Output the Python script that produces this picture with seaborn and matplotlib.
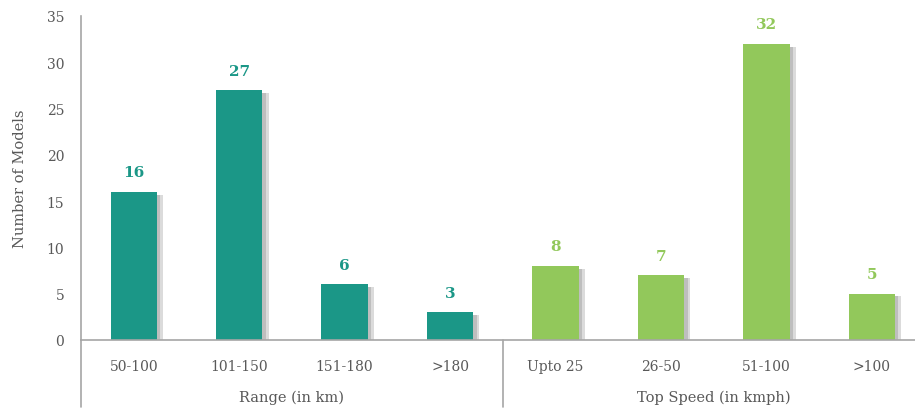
import matplotlib
matplotlib.use("Agg")
import matplotlib.pyplot as plt
import matplotlib.patheffects as pe
import pandas as pd
import seaborn as sns

# ── data ────────────────────────────────────────────────────────────────────
range_labels = ["50-100", "101-150", "151-180", ">180"]
range_counts = [16, 27, 6, 3]
speed_labels = ["Upto 25", "26-50", "51-100", ">100"]
speed_counts = [8, 7, 32, 5]
group_names = ["Range (in km)", "Top Speed (in kmph)"]

TEAL = "#1b9787"
GREEN = "#92c85b"
TEXT = "#595959"
AXIS = "#a6a6a6"

df = pd.DataFrame({
    "category": range_labels + speed_labels,
    "count": range_counts + speed_counts,
    "group": [group_names[0]] * len(range_labels) + [group_names[1]] * len(speed_labels),
})

sns.set_theme(style="white")
plt.rcParams["font.family"] = ["DejaVu Serif"]

fig = plt.figure(figsize=(9.15, 4.10), dpi=100)
ax = fig.add_axes([81 / 915, 69 / 410, 1 - 81 / 915, (341 - 17) / 410])

sns.barplot(data=df, x="category", y="count", hue="group",
            palette=[TEAL, GREEN], dodge=False, width=0.44, saturation=1,
            linewidth=0, legend=False, ax=ax)

# soft drop shadow on the right of each bar
for bar in ax.patches:
    bar.set_path_effects([
        pe.SimplePatchShadow(offset=(4.5, -2), shadow_rgbFace="#9a9a9a", alpha=0.35),
        pe.SimplePatchShadow(offset=(2.5, -2), shadow_rgbFace="#8a8a8a", alpha=0.35),
        pe.Normal(),
    ])

# value labels
colors = [TEAL] * len(range_counts) + [GREEN] * len(speed_counts)
for i, (v, c) in enumerate(zip(df["count"], colors)):
    ax.annotate(str(v), (i, v), xytext=(0, 9), textcoords="offset points",
                ha="center", va="bottom", fontsize=11, fontweight="bold", color=c)

ax.set_xlim(-0.5, 7.41)
ax.set_ylim(0, 35)
ax.set_yticks(range(0, 36, 5))
ax.set_xlabel("")
ax.set_ylabel("Number of Models", color=TEXT, fontsize=10.5, labelpad=14)

for s in ["top", "right"]:
    ax.spines[s].set_visible(False)
for s in ["left", "bottom"]:
    ax.spines[s].set_color(AXIS)
    ax.spines[s].set_linewidth(1.2)

ax.tick_params(axis="y", length=0, pad=12, labelsize=10, labelcolor=TEXT)
ax.tick_params(axis="x", length=0, pad=14, labelsize=10, labelcolor=TEXT)

# group dividers below the axis
for xd in [-0.5, 3.5]:
    ax.plot([xd, xd], [0, -7.2], color=AXIS, lw=1.2, clip_on=False)

# group titles
for j, name in enumerate(group_names):
    ax.text(1.5 + 4 * j, -6.1, name, ha="center", va="center",
            fontsize=10.5, color=TEXT, clip_on=False)

fig.savefig("out.png", dpi=100)
